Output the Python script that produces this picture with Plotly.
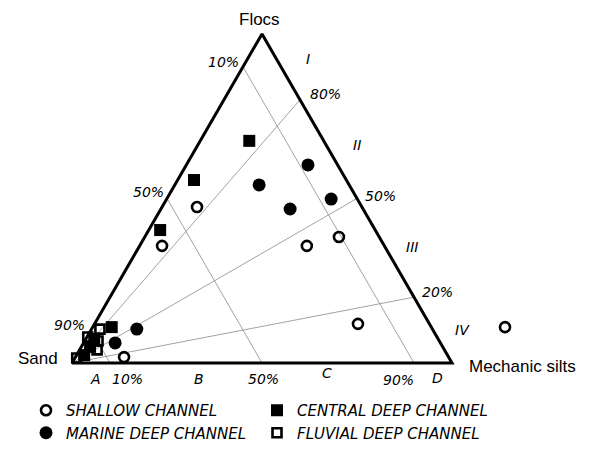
import math
import plotly.graph_objects as go

W, H = 594, 450
OFF = 8  # page body margin of the browser

# ---- data: compositions (Flocs, Sand, Mechanic silts; fractions) ----
shallow_flocs = [0.474, 0.356, 0.356, 0.383, 0.119, 0.109, 0.018]
shallow_sand  = [0.434, 0.585, 0.204, 0.106, 0.188, -0.194, 0.854]
shallow_silt  = [0.092, 0.059, 0.440, 0.511, 0.693, 1.085, 0.128]

marine_flocs = [0.602, 0.541, 0.498, 0.468, 0.103, 0.061]
marine_sand  = [0.078, 0.237, 0.069, 0.192, 0.778, 0.856]
marine_silt  = [0.320, 0.222, 0.433, 0.340, 0.119, 0.083]

central_flocs = [0.675, 0.556, 0.404, 0.109, 0.049, 0.073, 0.024]
central_sand  = [0.196, 0.401, 0.566, 0.841, 0.928, 0.905, 0.956]
central_silt  = [0.129, 0.043, 0.030, 0.050, 0.023, 0.022, 0.020]

fluvial_flocs = [0.103, 0.067, 0.040, 0.079, 0.015]
fluvial_sand  = [0.875, 0.898, 0.914, 0.919, 0.980]
fluvial_silt  = [0.022, 0.035, 0.046, 0.002, 0.005]

# guide lines: constant sand fraction, and flocs/(flocs+silt) ratio rays from Sand
sand_levels = [0.1, 0.5, 0.9]
ratio_levels = [0.8, 0.5, 0.2]

sand_tick_labels = ["10%", "50%", "90%"]
ratio_tick_labels = ["80%", "50%", "20%"]
region_right = ["I", "II", "III", "IV"]
region_base = ["A", "B", "C", "D"]

R3 = math.sqrt(3) / 2


def tern(flocs, sand, silt):
    """Ternary composition -> cartesian (Sand left, Silts right, Flocs top)."""
    xs, ys = [], []
    for a, b, c in zip(flocs, sand, silt):
        s = a + b + c
        a, c = a / s, c / s
        xs.append(c + a / 2)
        ys.append(a * R3)
    return xs, ys


fig = go.Figure()
guide = dict(color="#8a8a8a", width=0.8)

for s in sand_levels:
    x, y = tern([1 - s, 0], [s, s], [0, 1 - s])
    fig.add_trace(go.Scatter(x=x, y=y, mode="lines", line=guide,
                             showlegend=False, hoverinfo="skip"))
for r in ratio_levels:
    x, y = tern([0, r], [1, 0], [0, 1 - r])
    fig.add_trace(go.Scatter(x=x, y=y, mode="lines", line=guide,
                             showlegend=False, hoverinfo="skip"))

# triangle outline
x, y = tern([0, 0, 1, 0], [1, 0, 0, 1], [0, 1, 0, 0])
fig.add_trace(go.Scatter(x=x, y=y, mode="lines", line=dict(color="black", width=3),
                         showlegend=False, hoverinfo="skip"))

mk_line = dict(color="black", width=2.6)
x, y = tern(shallow_flocs, shallow_sand, shallow_silt)
fig.add_trace(go.Scatter(x=x, y=y, mode="markers", name="SHALLOW CHANNEL",
                         marker=dict(symbol="circle-open", size=10, color="black", line=mk_line)))
x, y = tern(central_flocs, central_sand, central_silt)
fig.add_trace(go.Scatter(x=x, y=y, mode="markers", name="CENTRAL DEEP CHANNEL",
                         marker=dict(symbol="square", size=12, color="black", line=dict(width=0))))
x, y = tern(marine_flocs, marine_sand, marine_silt)
fig.add_trace(go.Scatter(x=x, y=y, mode="markers", name="MARINE DEEP CHANNEL",
                         marker=dict(symbol="circle", size=13, color="black", line=dict(width=0))))
x, y = tern(fluvial_flocs, fluvial_sand, fluvial_silt)
fig.add_trace(go.Scatter(x=x, y=y, mode="markers", name="FLUVIAL DEEP CHANNEL",
                         marker=dict(symbol="square-open", size=9, color="black", line=mk_line)))

# triangle on screen: x 72..452 at base y 363 (380 px per unit side)
PXU = 380.0
x0_fig = 72 - OFF
ybase_fig = 363 - OFF
fig.update_layout(
    width=W, height=H, margin=dict(l=0, r=0, t=0, b=0, autoexpand=False),
    paper_bgcolor="white", plot_bgcolor="white",
    xaxis=dict(visible=False, range=[-x0_fig / PXU, (W - x0_fig) / PXU], fixedrange=True),
    yaxis=dict(visible=False, range=[-(H - ybase_fig) / PXU, ybase_fig / PXU], fixedrange=True),
    legend=dict(orientation="h", x=18 / W, y=1 - 386 / H, xanchor="left", yanchor="top",
                entrywidth=186, entrywidthmode="pixels", traceorder="normal",
                font=dict(family="DejaVu Sans", size=15, color="black", style="italic"),
                bgcolor="rgba(0,0,0,0)"),
    showlegend=True,
)


def px(x, y):
    return (x - OFF) / W, 1 - (y - OFF) / H


def add_text(txt, x, y, size=14, italic=True, family="DejaVu Sans"):
    xx, yy = px(x, y)
    fig.add_annotation(x=xx, y=yy, xref="paper", yref="paper", text=txt, showarrow=False,
                       xanchor="center", yanchor="middle",
                       font=dict(family=family, size=size, color="black",
                                 style="italic" if italic else "normal"))


add_text("Flocs", 259, 19, size=17, italic=False, family="Liberation Sans")
add_text("Sand", 38, 358, size=17, italic=False, family="Liberation Sans")
add_text("Mechanic silts", 522, 366, size=17, italic=False, family="Liberation Sans")

for t, (x, y) in zip(sand_tick_labels, [(223, 62), (148, 192), (69, 325)]):
    add_text(t, x, y)
for t, (x, y) in zip(sand_tick_labels, [(127, 379), (263, 379), (398, 380)]):
    add_text(t, x, y)
for t, (x, y) in zip(ratio_tick_labels, [(325, 94), (380, 196), (437, 292)]):
    add_text(t, x, y)
for t, (x, y) in zip(region_right, [(308, 59), (357, 145), (412, 247), (462, 330)]):
    add_text(t, x, y)
for t, (x, y) in zip(region_base, [(95, 379), (199, 379), (327, 373), (437, 378)]):
    add_text(t, x, y)

fig.write_html("out.html")
